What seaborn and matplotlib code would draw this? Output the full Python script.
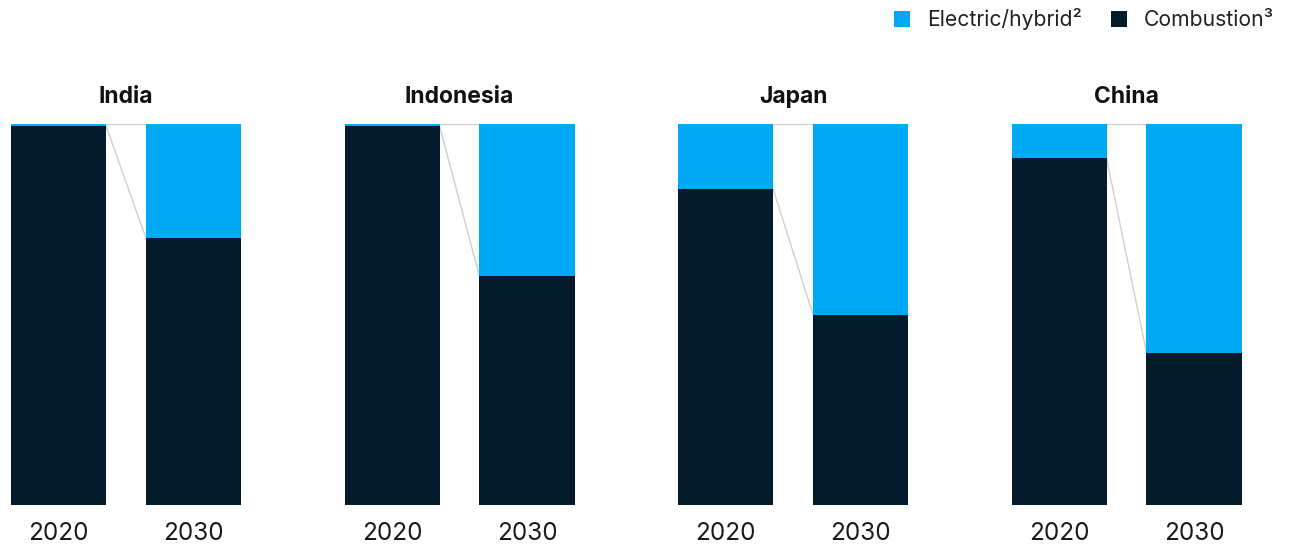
import matplotlib
matplotlib.use("Agg")
import matplotlib.pyplot as plt
from matplotlib.patches import Patch
import seaborn as sns
import pandas as pd

# Share of new vehicle sales by powertrain, %
countries = ["India", "Indonesia", "Japan", "China"]
years = ["2020", "2030"]
electric_2020 = [0.5, 0.5, 17, 9]
electric_2030 = [30, 40, 50, 60]

ELECTRIC = "#00A9F4"
COMBUSTION = "#051C2C"
CONNECTOR = "#CFCFCF"
BAR_W = 0.704

sns.set_theme(style="white")
plt.rcParams["font.family"] = ["Inter", "DejaVu Sans"]

fig = plt.figure(figsize=(12.9, 5.46), dpi=100)

W, H = 1290, 546
left0, step, panel_w = 11, 333.5, 230
top, bottom = 124, 505

for i, country in enumerate(countries):
    ax = fig.add_axes([(left0 + i * step) / W, (H - bottom) / H,
                       panel_w / W, (bottom - top) / H])
    elec = [electric_2020[i], electric_2030[i]]
    df = pd.DataFrame({
        "year": years,
        "total": [100, 100],
        "combustion": [100 - e for e in elec],
    })
    sns.barplot(data=df, x="year", y="total", color=ELECTRIC, width=BAR_W,
                linewidth=0, saturation=1, ax=ax)
    sns.barplot(data=df, x="year", y="combustion", color=COMBUSTION,
                width=BAR_W, linewidth=0, saturation=1, ax=ax)

    # connectors between the two bars
    x0, x1 = 0 + BAR_W / 2, 1 - BAR_W / 2
    ax.plot([x0, x1], [100, 100], color=CONNECTOR, lw=1, zorder=0)
    ax.plot([x0, x1], df["combustion"], color=CONNECTOR, lw=1, zorder=0)

    ax.set_xlim(-BAR_W / 2, 1 + BAR_W / 2)
    ax.set_ylim(0, 100)
    ax.set_yticks([])
    ax.set_xlabel("")
    ax.set_ylabel("")
    ax.tick_params(axis="x", length=0, pad=12, labelsize=17.5, colors="#1a1a1a")
    for s in ax.spines.values():
        s.set_visible(False)
    ax.set_title(country, fontsize=16.5, fontweight="bold", pad=15,
                 color="#111111")

handles = [Patch(facecolor=ELECTRIC, edgecolor="none", label="Electric/hybrid²"),
           Patch(facecolor=COMBUSTION, edgecolor="none", label="Combustion³")]
fig.legend(handles=handles, loc="upper right", bbox_to_anchor=(0.999, 1.012),
           ncol=2, frameon=False, fontsize=15.2, handlelength=0.75,
           handleheight=0.75, handletextpad=0.8, columnspacing=1.4,
           borderaxespad=0.3, labelcolor="#222222")

fig.savefig("out.png", dpi=100)
